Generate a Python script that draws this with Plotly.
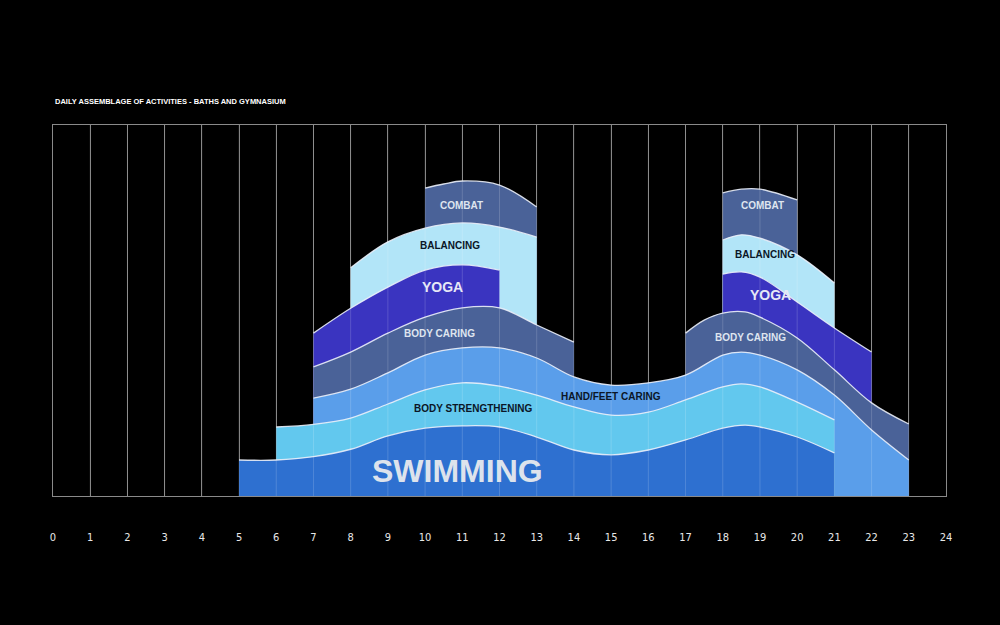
import plotly.graph_objects as go

# ---------------- data (top boundary of each band, in "level" units 0-100) ----
hours = list(range(0, 25))
tick_labels = [str(h) for h in hours]

swim_x = [5, 6, 7, 8, 9, 10, 11, 12, 13, 14, 15, 16, 17, 18, 18.6, 19, 20, 21]
swim_y = [9.7, 9.7, 10.6, 12.6, 16.2, 18.3, 18.9, 18.6, 15.9, 12.4, 11.1, 12.4, 15.1, 18.3, 19.1, 18.6, 15.9, 11.6]

strength_x = [6, 7, 8, 9, 10, 11, 12, 13, 14, 15, 16, 17, 18, 18.5, 19, 20, 21]
strength_y = [18.6, 19.3, 21.0, 24.8, 28.6, 30.5, 29.6, 27.2, 24.0, 21.8, 22.6, 25.9, 29.4, 30.2, 29.4, 25.3, 20.5]

hand_x = [7, 8, 9, 10, 11, 12, 13, 14, 15, 16, 17, 18, 18.5, 19, 20, 21, 22, 23]
hand_y = [26.4, 28.8, 33.2, 38.0, 39.9, 39.9, 37.2, 32.1, 29.9, 30.5, 32.6, 38.0, 38.8, 38.0, 34.0, 27.2, 17.8, 9.7]

caring1_x = [7, 8, 9, 10, 11, 12, 13, 14]
caring1_y = [34.8, 38.8, 43.9, 48.2, 50.7, 50.7, 46.1, 41.5]
caring2_x = [17, 17.5, 18, 18.6, 19, 20, 21, 22, 23]
caring2_y = [43.9, 47.4, 49.3, 49.6, 48.2, 42.6, 34.0, 25.1, 19.4]

yoga1_x = [7, 8, 9, 10, 11, 12]
yoga1_y = [43.9, 50.6, 56.3, 60.9, 62.3, 60.9]
yoga2_x = [18, 18.5, 19, 20, 21, 22]
yoga2_y = [59.8, 60.4, 59.0, 52.3, 45.3, 38.8]

bal1_x = [8, 9, 10, 11, 12, 13]
bal1_y = [61.5, 68.5, 72.2, 73.6, 72.5, 69.8]
bal2_x = [18, 18.5, 19, 20, 21]
bal2_y = [69.0, 70.4, 69.5, 65.0, 57.4]

combat1_x = [10, 10.5, 11, 12, 13]
combat1_y = [83.0, 84.1, 84.9, 83.8, 77.9]
combat2_x = [18, 18.5, 19, 20]
combat2_y = [81.7, 82.7, 82.7, 79.8]

# label positions
labels = [
    ("SWIMMING", 10.86, 6.7, 32, "#dde3ec"),
    ("BODY STRENGTHENING", 11.29, 23.7, 10, "#0b1626"),
    ("HAND/FEET CARING", 15.0, 26.7, 10, "#0b1626"),
    ("BODY CARING", 10.38, 43.9, 10, "#dfe5ef"),
    ("BODY CARING", 18.74, 42.6, 10, "#dfe5ef"),
    ("YOGA", 10.48, 56.3, 14, "#e6e8f6"),
    ("YOGA", 19.27, 54.2, 14, "#e6e8f6"),
    ("BALANCING", 10.67, 67.4, 10, "#0b1626"),
    ("BALANCING", 19.14, 65.0, 10, "#0b1626"),
    ("COMBAT", 10.99, 78.4, 10, "#dfe5ef"),
    ("COMBAT", 19.06, 78.4, 10, "#dfe5ef"),
]

C_SWIM = "#2e70d0"
C_STRENGTH = "#62c8ee"
C_HAND = "#5a9eea"
C_SLATE = "#4a6298"
C_YOGA = "#3a34c0"
C_BAL = "#b2e5f8"

# drawing order: top bands first, lower bands painted over them
bands = [
    (combat1_x, combat1_y, C_SLATE),
    (combat2_x, combat2_y, C_SLATE),
    (bal1_x, bal1_y, C_BAL),
    (bal2_x, bal2_y, C_BAL),
    (yoga1_x, yoga1_y, C_YOGA),
    (yoga2_x, yoga2_y, C_YOGA),
    (caring1_x, caring1_y, C_SLATE),
    (caring2_x, caring2_y, C_SLATE),
    (hand_x, hand_y, C_HAND),
    (strength_x, strength_y, C_STRENGTH),
    (swim_x, swim_y, C_SWIM),
]

fig = go.Figure()
for xs, ys, col in bands:
    fig.add_trace(go.Scatter(
        x=xs, y=ys, mode="lines", fill="tozeroy", fillcolor=col,
        line=dict(color="rgba(235,240,250,0.9)", width=1.3, shape="spline", smoothing=1.0),
        hoverinfo="skip", showlegend=False,
    ))

for text, x, y, size, col in labels:
    fig.add_annotation(x=x, y=y, xref="x", yref="y", text="<b>" + text + "</b>",
                       showarrow=False, font=dict(family="Liberation Sans, Arial, sans-serif", size=size, color=col))

fig.add_annotation(x=0, y=1.062, xref="paper", yref="paper", xanchor="left", yanchor="middle",
                   text="<b>DAILY ASSEMBLAGE OF ACTIVITIES - BATHS AND GYMNASIUM</b>", showarrow=False,
                   font=dict(family="Liberation Sans Narrow, Liberation Sans, Arial, sans-serif", size=7.5, color="#ffffff"))

# faint grid lines over the bands
for h in hours[1:-1]:
    fig.add_shape(type="line", xref="x", yref="paper", x0=h, x1=h, y0=0, y1=1,
                  line=dict(color="rgba(255,255,255,0.16)", width=1), layer="above")

fig.update_layout(
    width=1000, height=625,
    paper_bgcolor="#000000", plot_bgcolor="#000000",
    margin=dict(l=53, r=54, t=125, b=129),
    showlegend=False,
)
fig.update_xaxes(range=[0, 24], tickvals=hours, ticktext=tick_labels, showgrid=True,
                 gridcolor="#7a7a7a", gridwidth=1, zeroline=False,
                 showline=True, linecolor="#8a8a8a", linewidth=1, mirror=True,
                 ticks="", ticklabelstandoff=31,
                 tickfont=dict(family="Liberation Sans Narrow, DejaVu Sans Condensed, sans-serif", size=11, color="#e8e8e8"))
fig.update_yaxes(range=[0, 100], showgrid=False, zeroline=False, showticklabels=False,
                 showline=True, linecolor="#8a8a8a", linewidth=1, mirror=True, ticks="")

fig.write_html("out.html")
